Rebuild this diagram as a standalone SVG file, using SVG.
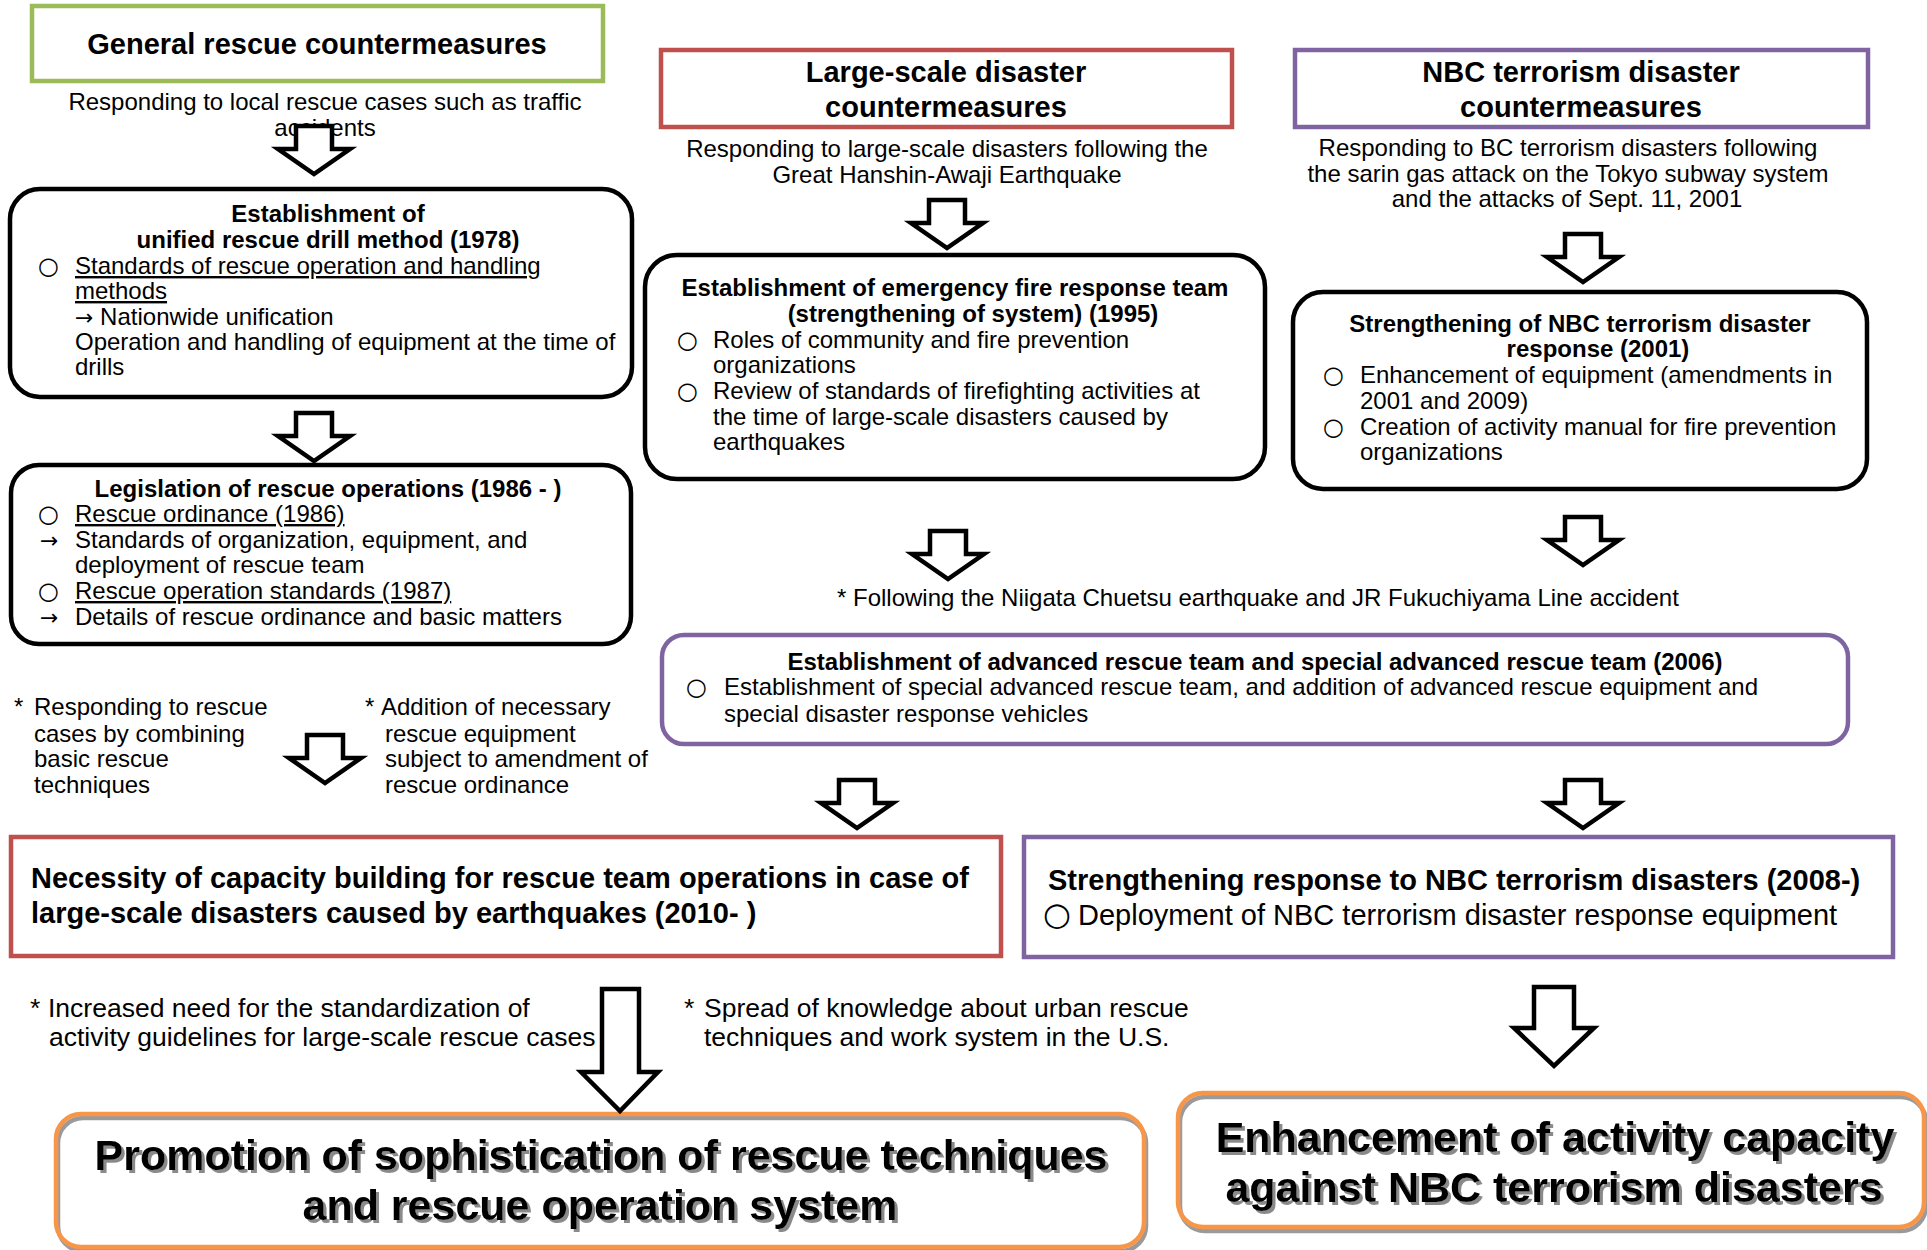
<svg xmlns="http://www.w3.org/2000/svg" width="1927" height="1250" viewBox="0 0 1927 1250">
<defs>
<style>
text{font-family:"Liberation Sans",Arial,sans-serif;fill:#000}
.t{font-size:24px}
.b{font-size:24px;font-weight:bold}
.h{font-size:29px;font-weight:bold}
.m{font-size:29px}
.n{font-size:26.5px}
.big{font-size:43px;font-weight:bold}
.c{text-anchor:middle}
.u{text-decoration:underline}
.o{font-family:"DejaVu Sans",sans-serif;font-size:24px}
.o2{font-family:"DejaVu Sans",sans-serif;font-size:32px}
.ar{font-family:"DejaVu Sans",sans-serif;font-size:22px}
.box{fill:#fff;stroke:#000;stroke-width:4.5}
.green{fill:#fff;stroke:#9BBB59;stroke-width:4.5}
.red{fill:#fff;stroke:#C0504D;stroke-width:4.5}
.purple{fill:#fff;stroke:#8064A2;stroke-width:4.5}
.orange{fill:none;stroke:#F79646;stroke-width:4.5}
.arrow{fill:#fff;stroke:#000;stroke-width:4.5;stroke-linejoin:miter}
</style>
<path id="arr" d="M-18,0 H18 V23 H36 L0,48 L-36,23 H-18 Z"/>
<filter id="tsh" x="-5%" y="-30%" width="110%" height="160%">
<feOffset in="SourceAlpha" dx="3" dy="3" result="o"/>
<feFlood flood-color="#8a8a8a"/>
<feComposite in2="o" operator="in" result="s"/>
<feMerge><feMergeNode in="s"/><feMergeNode in="SourceGraphic"/></feMerge>
</filter>
<filter id="bsh" x="-5%" y="-10%" width="110%" height="130%">
<feOffset in="SourceAlpha" dx="2" dy="4" result="o"/>
<feFlood flood-color="#9a9a9a"/>
<feComposite in2="o" operator="in" result="s"/>
<feMerge><feMergeNode in="s"/><feMergeNode in="SourceGraphic"/></feMerge>
</filter>
</defs>
<rect width="1927" height="1250" fill="#fff"/>

<g id="general">
<rect class="green" x="32" y="6" width="571" height="75"/>
<text class="h c" x="317" y="54">General rescue countermeasures</text>
<text class="t c" x="325" y="110">Responding to local rescue cases such as traffic</text>
<text class="t c" x="325" y="136">accidents</text>
</g>

<g id="drill">
<rect class="box" x="10" y="189" width="622" height="208" rx="30"/>
<text class="b c" x="328" y="222">Establishment of</text>
<text class="b c" x="328" y="248">unified rescue drill method (1978)</text>
<text class="t" y="274"><tspan x="38" class="o">○</tspan><tspan x="75" class="u">Standards of rescue operation and handling</tspan></text>
<text class="t u" x="75" y="299">methods</text>
<text class="t" y="325"><tspan x="75" class="ar">→</tspan><tspan> Nationwide unification</tspan></text>
<text class="t" x="75" y="350">Operation and handling of equipment at the time of</text>
<text class="t" x="75" y="375">drills</text>
</g>

<g id="legislation">
<rect class="box" x="11" y="465" width="620" height="179" rx="28"/>
<text class="b c" x="328" y="497">Legislation of rescue operations (1986 - )</text>
<text class="t" y="522"><tspan x="38" class="o">○</tspan><tspan x="75" class="u">Rescue ordinance (1986)</tspan></text>
<text class="t" y="548"><tspan x="40" class="ar">→</tspan><tspan x="75">Standards of organization, equipment, and</tspan></text>
<text class="t" x="75" y="573">deployment of rescue team</text>
<text class="t" y="599"><tspan x="38" class="o">○</tspan><tspan x="75" class="u">Rescue operation standards (1987)</tspan></text>
<text class="t" y="625"><tspan x="40" class="ar">→</tspan><tspan x="75">Details of rescue ordinance and basic matters</tspan></text>
</g>

<g id="note-left">
<text class="t" y="715"><tspan x="14">*</tspan><tspan x="34">Responding to rescue</tspan></text>
<text class="t" x="34" y="742">cases by combining</text>
<text class="t" x="34" y="767">basic rescue</text>
<text class="t" x="34" y="793">techniques</text>
</g>
<g id="note-mid">
<text class="t" y="715"><tspan x="365">*</tspan><tspan x="381">Addition of necessary</tspan></text>
<text class="t" x="385" y="742">rescue equipment</text>
<text class="t" x="385" y="767">subject to amendment of</text>
<text class="t" x="385" y="793">rescue ordinance</text>
</g>

<g id="largescale">
<rect class="red" x="661" y="50" width="571" height="77"/>
<text class="h c" x="946" y="82">Large-scale disaster</text>
<text class="h c" x="946" y="117">countermeasures</text>
<text class="t c" x="947" y="157">Responding to large-scale disasters following the</text>
<text class="t c" x="947" y="183">Great Hanshin-Awaji Earthquake</text>
</g>

<g id="fireteam">
<rect class="box" x="645" y="255" width="620" height="224" rx="32"/>
<text class="b c" x="955" y="296">Establishment of emergency fire response team</text>
<text class="b c" x="973" y="322">(strengthening of system) (1995)</text>
<text class="t" y="348"><tspan x="677" class="o">○</tspan><tspan x="713">Roles of community and fire prevention</tspan></text>
<text class="t" x="713" y="373">organizations</text>
<text class="t" y="399"><tspan x="677" class="o">○</tspan><tspan x="713">Review of standards of firefighting activities at</tspan></text>
<text class="t" x="713" y="425">the time of large-scale disasters caused by</text>
<text class="t" x="713" y="450">earthquakes</text>
</g>

<g id="nbc">
<rect class="purple" x="1295" y="50" width="573" height="77"/>
<text class="h c" x="1581" y="82">NBC terrorism disaster</text>
<text class="h c" x="1581" y="117">countermeasures</text>
<text class="t c" x="1568" y="156">Responding to BC terrorism disasters following</text>
<text class="t c" x="1568" y="182">the sarin gas attack on the Tokyo subway system</text>
<text class="t c" x="1567" y="207">and the attacks of Sept. 11, 2001</text>
</g>

<g id="nbc2001">
<rect class="box" x="1293" y="292" width="574" height="197" rx="30"/>
<text class="b c" x="1580" y="332">Strengthening of NBC terrorism disaster</text>
<text class="b c" x="1598" y="357">response (2001)</text>
<text class="t" y="383"><tspan x="1323" class="o">○</tspan><tspan x="1360">Enhancement of equipment (amendments in</tspan></text>
<text class="t" x="1360" y="409">2001 and 2009)</text>
<text class="t" y="435"><tspan x="1323" class="o">○</tspan><tspan x="1360">Creation of activity manual for fire prevention</tspan></text>
<text class="t" x="1360" y="460">organizations</text>
</g>

<g id="note-niigata">
<text class="t" x="837" y="606">* Following the Niigata Chuetsu earthquake and JR Fukuchiyama Line accident</text>
</g>

<g id="advanced2006">
<rect class="purple" x="662" y="635" width="1186" height="109" rx="22"/>
<text class="b c" x="1255" y="670">Establishment of advanced rescue team and special advanced rescue team (2006)</text>
<text class="t" y="695"><tspan x="686" class="o">○</tspan><tspan x="724">Establishment of special advanced rescue team, and addition of advanced rescue equipment and</tspan></text>
<text class="t" x="724" y="722">special disaster response vehicles</text>
</g>

<g id="capacity2010">
<rect class="red" x="11" y="837" width="990" height="119"/>
<text class="h" x="31" y="888">Necessity of capacity building for rescue team operations in case of</text>
<text class="h" x="31" y="923">large-scale disasters caused by earthquakes (2010- )</text>
</g>

<g id="nbc2008">
<rect class="purple" x="1024" y="837" width="869" height="120"/>
<text class="h" x="1048" y="890">Strengthening response to NBC terrorism disasters (2008-)</text>
<text class="m" y="925"><tspan x="1043" class="o2">○</tspan><tspan x="1078">Deployment of NBC terrorism disaster response equipment</tspan></text>
</g>

<g id="note-bottom">
<text class="n" y="1017"><tspan x="30">*</tspan><tspan x="48">Increased need for the standardization of</tspan></text>
<text class="n" x="49" y="1046">activity guidelines for large-scale rescue cases</text>
<text class="n" y="1017"><tspan x="684">*</tspan><tspan x="704">Spread of knowledge about urban rescue</tspan></text>
<text class="n" x="704" y="1046">techniques and work system in the U.S.</text>
</g>

<g id="promotion">
<rect x="56" y="1114" width="1088" height="133" rx="25" fill="#fff"/>
<rect class="orange" x="56" y="1114" width="1088" height="133" rx="25" filter="url(#bsh)"/>
<g filter="url(#tsh)">
<text class="big c" x="601" y="1170">Promotion of sophistication of rescue techniques</text>
<text class="big c" x="600" y="1220">and rescue operation system</text>
</g>
</g>

<g id="enhancement">
<rect x="1178" y="1093" width="746" height="134" rx="25" fill="#fff"/>
<rect class="orange" x="1178" y="1093" width="746" height="134" rx="25" filter="url(#bsh)"/>
<g filter="url(#tsh)">
<text class="big c" x="1555" y="1152">Enhancement of activity capacity</text>
<text class="big c" x="1554" y="1202">against NBC terrorism disasters</text>
</g>
</g>

<g id="connectors">
<use href="#arr" class="arrow" x="314" y="126"/>
<use href="#arr" class="arrow" x="314" y="413"/>
<use href="#arr" class="arrow" x="325" y="735"/>
<use href="#arr" class="arrow" x="947" y="200"/>
<use href="#arr" class="arrow" x="1583" y="234"/>
<use href="#arr" class="arrow" x="948" y="531"/>
<use href="#arr" class="arrow" x="1583" y="517"/>
<use href="#arr" class="arrow" x="857" y="780"/>
<use href="#arr" class="arrow" x="1583" y="780"/>
<path class="arrow" d="M602,989 H639 V1072 H658 L620,1111 L581,1072 H602 Z"/>
<path class="arrow" d="M1534,987 H1574 V1028 H1594 L1554,1066 L1514,1028 H1534 Z"/>
</g>
</svg>
